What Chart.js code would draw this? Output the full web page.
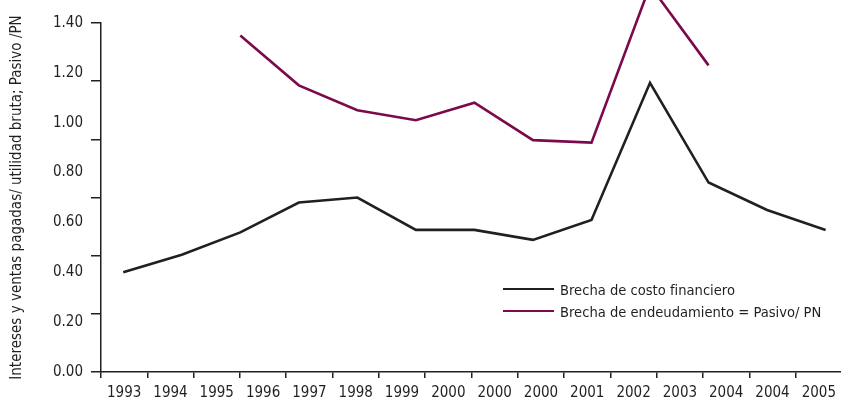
<!DOCTYPE html>
<html lang="es">
<head>
<meta charset="utf-8">
<title>Brechas</title>
<script src="https://cdn.jsdelivr.net/npm/chart.js@4/dist/chart.umd.min.js"></script>
<style>
    html, body { margin: 0; padding: 0; background: #fff; overflow: hidden; }
    #wrap { position: relative; width: 844px; height: 401px; }
    #legend {
        position: absolute; left: 503px; top: 278px;
        font-family: "Liberation Sans Narrow", "DejaVu Sans Condensed", sans-serif;
        font-size: 14.6px; color: #231f20; white-space: nowrap;
    }
    #legend div { display: flex; align-items: center; height: 22px; }
    #legend span.line { display: inline-block; width: 51px; height: 2px; margin-right: 6px; }
</style>
</head>
<body>
<div id="wrap">
    <canvas id="chart" width="844" height="401"></canvas>
    <div id="legend"></div>
</div>
<script>
// Etiquetas del eje horizontal (tal como aparecen, con años repetidos)
const yearLabels = ['1993', '1994', '1995', '1996', '1997', '1998', '1999', '2000',
    '2000', '2000', '2001', '2002', '2003', '2004', '2004', '2005'];

// Series: 13 observaciones equiespaciadas
const costoFinanciero = [0.40, 0.47, 0.56, 0.68, 0.70, 0.57, 0.57, 0.53, 0.61, 1.16, 0.76, 0.65, 0.57];
const endeudamiento = [null, null, 1.35, 1.15, 1.05, 1.01, 1.08, 0.93, 0.92, 1.55, 1.23, null, null];

const yTickValues = [0, 0.2, 0.4, 0.6, 0.8, 1.0, 1.2, 1.4];

const seriesNames = ['Brecha de costo financiero', 'Brecha de endeudamiento = Pasivo/ PN'];
const seriesColors = ['#231f20', '#7b0a4c'];

const FONT = '"Liberation Sans Narrow", "DejaVu Sans Condensed", sans-serif';
const INK = '#231f20';

/**
 * Convierte una lista de valores en puntos {x, y} usando la posición como x.
 */
function toPoints(values) {
    return values.map((v, i) => ({ x: i, y: v }));
}

/**
 * Leyenda en HTML dentro del área del gráfico.
 */
function buildLegend(chart) {
    const box = document.getElementById('legend');
    box.innerHTML = '';
    chart.data.datasets.forEach(ds => {
        const row = document.createElement('div');
        const line = document.createElement('span');
        line.className = 'line';
        line.style.background = ds.borderColor;
        row.appendChild(line);
        row.appendChild(document.createTextNode(ds.label));
        box.appendChild(row);
    });
}

document.addEventListener('DOMContentLoaded', () => {
    const ctx = document.getElementById('chart').getContext('2d');

    const chart = new Chart(ctx, {
        type: 'line',
        data: {
            labels: yearLabels,
            datasets: [
                {
                    label: seriesNames[0],
                    data: toPoints(costoFinanciero),
                    xAxisID: 'xd',
                    borderColor: seriesColors[0],
                    borderWidth: 2.6,
                    pointRadius: 0,
                    tension: 0,
                    clip: false
                },
                {
                    label: seriesNames[1],
                    data: toPoints(endeudamiento),
                    xAxisID: 'xd',
                    borderColor: seriesColors[1],
                    borderWidth: 2.6,
                    pointRadius: 0,
                    tension: 0,
                    spanGaps: false,
                    clip: false
                }
            ]
        },
        options: {
            responsive: false,
            animation: false,
            layout: { padding: { top: 23, right: 0, bottom: 0, left: 0 } },
            plugins: {
                legend: { display: false },
                tooltip: { enabled: false }
            },
            scales: {
                x: {
                    type: 'category',
                    offset: true,
                    afterFit: scale => { scale.height = 29; },
                    grid: {
                        offset: true,
                        drawOnChartArea: false,
                        drawTicks: true,
                        tickLength: 6,
                        color: INK,
                        lineWidth: 1.5
                    },
                    border: { display: true, color: INK, width: 1.5 },
                    ticks: {
                        autoSkip: false,
                        maxRotation: 0,
                        padding: 8,
                        color: INK,
                        font: { family: FONT, size: 15, lineHeight: 1 }
                    }
                },
                xd: {
                    type: 'linear',
                    display: false,
                    min: -0.38,
                    max: 12.28
                },
                yt: {
                    type: 'linear',
                    position: 'left',
                    weight: 0,
                    min: 0,
                    max: 1.4,
                    afterBuildTicks: scale => {
                        scale.ticks = [0, 1, 2, 3, 4, 5, 6].map(k => ({ value: 1.4 * k / 6 }));
                    },
                    afterFit: scale => { scale.width = 10; },
                    grid: {
                        drawOnChartArea: false,
                        drawTicks: true,
                        tickLength: 10,
                        color: INK,
                        lineWidth: 1.5
                    },
                    border: { display: true, color: INK, width: 1.5 },
                    ticks: { display: false }
                },
                y: {
                    type: 'linear',
                    position: 'left',
                    weight: 1,
                    min: 0,
                    max: 1.4,
                    afterBuildTicks: scale => {
                        scale.ticks = yTickValues.map(v => ({ value: v }));
                    },
                    afterFit: scale => { scale.width = 91; },
                    grid: { display: false, drawOnChartArea: false, drawTicks: false },
                    border: { display: false },
                    ticks: {
                        padding: 8,
                        color: INK,
                        font: { family: FONT, size: 15, lineHeight: 1 },
                        callback: v => v.toFixed(2)
                    },
                    title: {
                        display: true,
                        text: 'Intereses y ventas pagadas/ utilidad bruta; Pasivo /PN',
                        color: INK,
                        padding: { top: 10, bottom: 0 },
                        font: { family: FONT, size: 15, lineHeight: 1 }
                    }
                }
            }
        }
    });

    buildLegend(chart);
});
</script>
</body>
</html>
